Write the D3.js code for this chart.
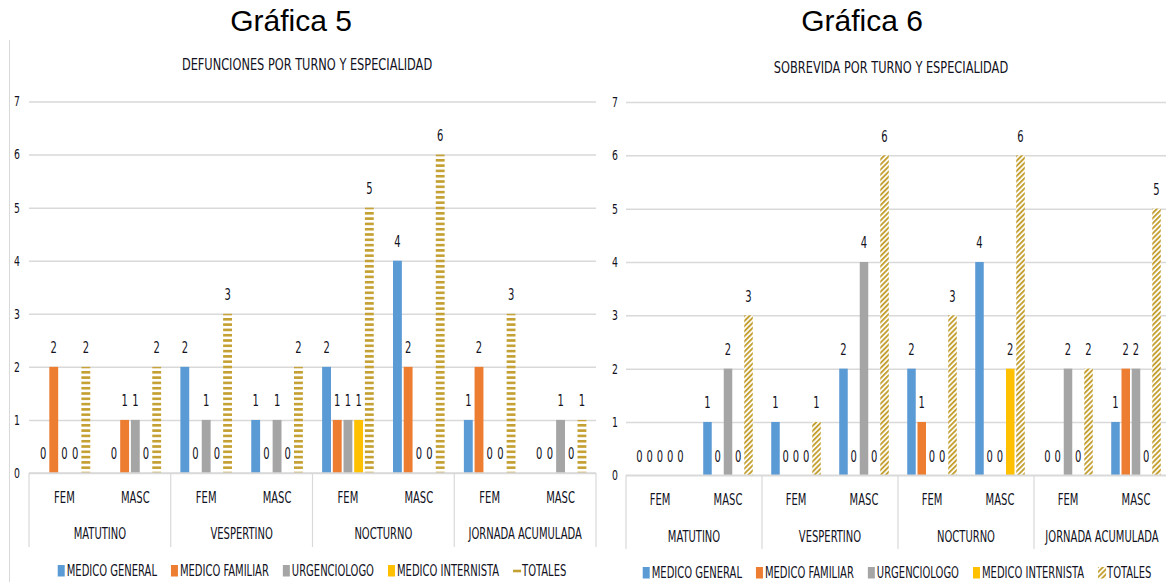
<!DOCTYPE html>
<html lang="es">
<head>
<meta charset="UTF-8">
<title>Gráficas 5 y 6</title>
<script src="https://cdn.jsdelivr.net/npm/d3@7"></script>
<style>
  body { margin: 0; background: #fff; }
  .lbl { font-family: "Liberation Sans Narrow", "DejaVu Sans Condensed", sans-serif; fill: #111122; }
  .big { font-family: "Liberation Sans", Arial, sans-serif; fill: #000; }
</style>
</head>
<body>
<script>
const turnos = ["MATUTINO", "VESPERTINO", "NOCTURNO", "JORNADA ACUMULADA"];
const sexos = ["FEM", "MASC"];
const especialidades = ["MEDICO GENERAL", "MEDICO FAMILIAR", "URGENCIOLOGO", "MEDICO INTERNISTA", "TOTALES"];
const yTicks = [0, 1, 2, 3, 4, 5, 6, 7];

// valores en orden turno x sexo (FEM, MASC)
const defMedicoGeneral   = [0, 0, 2, 1, 2, 4, 1, 0];
const defMedicoFamiliar  = [2, 1, 0, 0, 1, 2, 2, 0];
const defUrgenciologo    = [0, 1, 1, 1, 1, 0, 0, 1];
const defMedicoInternista= [0, 0, 0, 0, 1, 0, 0, 0];
const defTotales         = [2, 2, 3, 2, 5, 6, 3, 1];

const sobMedicoGeneral   = [0, 1, 1, 2, 2, 4, 0, 1];
const sobMedicoFamiliar  = [0, 0, 0, 0, 1, 0, 0, 2];
const sobUrgenciologo    = [0, 2, 0, 4, 0, 0, 2, 2];
const sobMedicoInternista= [0, 0, 0, 0, 0, 2, 0, 0];
const sobTotales         = [0, 3, 1, 6, 3, 6, 2, 5];

const colores = ["#5B9BD5", "#ED7D31", "#A5A5A5", "#FFC000"];
const oro = "#C4A032";
const SX = 0.74; // texto condensado

const svg = d3.select("body").append("svg")
    .attr("width", 1166).attr("height", 582);

const defs = svg.append("defs");
const rayas = defs.append("pattern").attr("id", "rayas")
    .attr("patternUnits", "userSpaceOnUse").attr("width", 10).attr("height", 5.3);
rayas.append("rect").attr("width", 10).attr("height", 5.3).attr("fill", "#fff");
rayas.append("rect").attr("width", 10).attr("height", 2.6).attr("fill", oro);

const diag = defs.append("pattern").attr("id", "diag")
    .attr("patternUnits", "userSpaceOnUse").attr("width", 3.6).attr("height", 3.6)
    .attr("patternTransform", "rotate(45)");
diag.append("rect").attr("width", 3.6).attr("height", 3.6).attr("fill", "#fff");
diag.append("rect").attr("width", 1.9).attr("height", 3.6).attr("fill", oro);

function txt(g, x, y, s, size, anchor, sx) {
    return g.append("text").attr("class", "lbl")
        .attr("transform", `translate(${x},${y}) scale(${sx},1)`)
        .attr("text-anchor", anchor || "middle")
        .attr("dy", "0.35em")
        .attr("font-size", size)
        .text(s);
}

// borde del panel izquierdo
svg.append("line").attr("x1", 9.5).attr("x2", 9.5).attr("y1", 40).attr("y2", 582)
    .attr("stroke", "#d9d9d9").attr("stroke-width", 1);

function drawChart(c) {
    const g = svg.append("g");

    g.append("text").attr("class", "big")
        .attr("x", c.graficaX).attr("y", 31)
        .attr("text-anchor", "middle").attr("font-size", 30)
        .text(c.grafica);

    txt(g, c.tituloX, c.tituloY, c.titulo, 16, "middle", 0.79);

    const y = d3.scaleLinear().domain([0, 7]).range([c.y0, c.y7]);
    const x0 = d3.scaleBand().domain(turnos).range([c.left, c.right]);
    const xs = d3.scaleBand().domain(sexos).range([0, x0.bandwidth()]);
    const xb = d3.scaleBand().domain(d3.range(especialidades.length))
        .range([0, xs.bandwidth()]).paddingInner(0.17).paddingOuter(0.9);

    // rejilla + etiquetas y
    const ax = g.append("g").attr("transform", `translate(${c.left},0)`)
        .call(d3.axisLeft(y).tickValues(yTicks).tickFormat(d3.format("d"))
            .tickSize(-(c.right - c.left)));
    ax.select(".domain").remove();
    ax.selectAll(".tick line").attr("stroke", "#d9d9d9").attr("stroke-width", 1.5);
    ax.selectAll(".tick text").remove();
    yTicks.forEach(t => txt(g, c.tickX, y(t), t, 14, "middle", SX));

    // categorias
    const cells = [];
    turnos.forEach((t, ti) => sexos.forEach((s, si) => cells.push({ t, s, i: ti * 2 + si })));

    cells.forEach(cell => {
        const bx = x0(cell.t) + xs(cell.s);
        c.series.forEach((arr, k) => {
            const v = arr[cell.i];
            const xx = bx + xb(k);
            const fill = k < 4 ? colores[k] : `url(#${c.patron})`;
            if (v > 0) {
                g.append("rect")
                    .attr("x", xx).attr("y", y(v))
                    .attr("width", xb.bandwidth()).attr("height", y(0) - y(v))
                    .attr("fill", fill);
            }
            txt(g, xx + xb.bandwidth() / 2, y(v) - 19, v, 15, "middle", SX);
        });
    });

    // eje de categorias
    g.append("line").attr("x1", c.left).attr("x2", c.right)
        .attr("y1", c.y0).attr("y2", c.y0)
        .attr("stroke", "#d9d9d9").attr("stroke-width", 1.5);
    const bordes = turnos.map(t => x0(t)).concat([c.right]);
    bordes.forEach(bx => {
        g.append("line").attr("x1", bx).attr("x2", bx)
            .attr("y1", c.y0).attr("y2", c.divBottom)
            .attr("stroke", "#d9d9d9").attr("stroke-width", 1.2);
    });
    cells.forEach(cell => {
        txt(g, x0(cell.t) + xs(cell.s) + xs.bandwidth() / 2, c.subY, cell.s, 15, "middle", SX);
    });
    turnos.forEach(t => txt(g, x0(t) + x0.bandwidth() / 2, c.grpY, t, 15, "middle", SX));

    // leyenda
    const lg = g.append("g");
    let pos = 0;
    especialidades.forEach((e, k) => {
        const it = lg.append("g");
        if (k < 4) {
            it.append("rect").attr("x", pos).attr("y", -6).attr("width", 7).attr("height", 11.5).attr("fill", colores[k]);
        } else if (c.patron === "rayas") {
            it.append("rect").attr("x", pos).attr("y", -1.3).attr("width", 8).attr("height", 2.6).attr("fill", oro);
        } else {
            it.append("rect").attr("x", pos).attr("y", -6).attr("width", 8).attr("height", 11.5).attr("fill", "url(#diag)");
        }
        const t = txt(it, pos + 9, 0, e, 15, "start", SX);
        const w = t.node().getComputedTextLength() * SX;
        pos += 9 + w + 14;
    });
    const total = pos - 14;
    lg.attr("transform", `translate(${c.legendCx - total / 2},${c.legendY})`);
}

drawChart({
    grafica: "Gráfica 5", graficaX: 291,
    titulo: "DEFUNCIONES POR TURNO Y ESPECIALIDAD", tituloX: 307, tituloY: 64,
    left: 29, right: 596, y0: 473, y7: 101.5, tickX: 17,
    subY: 498, grpY: 534, divBottom: 547,
    legendCx: 312, legendY: 571,
    patron: "rayas",
    series: [defMedicoGeneral, defMedicoFamiliar, defUrgenciologo, defMedicoInternista, defTotales]
});

drawChart({
    grafica: "Gráfica 6", graficaX: 862,
    titulo: "SOBREVIDA POR TURNO Y ESPECIALIDAD", tituloX: 891, tituloY: 67,
    left: 626, right: 1170, y0: 475.3, y7: 102, tickX: 615,
    subY: 500, grpY: 537, divBottom: 549,
    legendCx: 897, legendY: 573,
    patron: "diag",
    series: [sobMedicoGeneral, sobMedicoFamiliar, sobUrgenciologo, sobMedicoInternista, sobTotales]
});
</script>
</body>
</html>
